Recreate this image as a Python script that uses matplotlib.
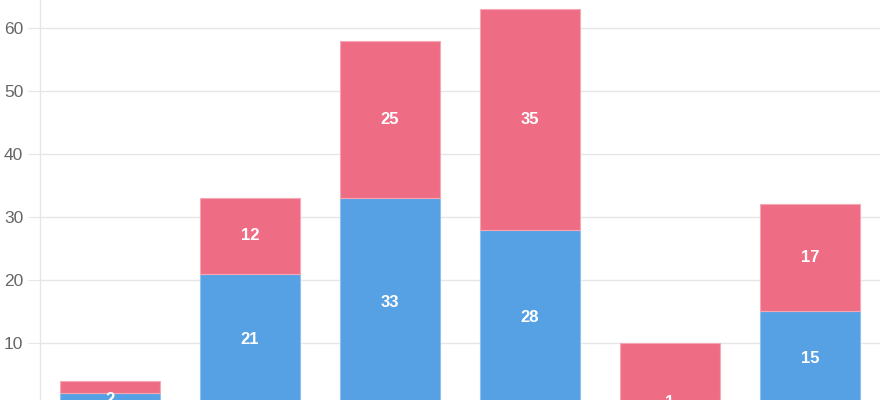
import matplotlib
matplotlib.use("Agg")
import matplotlib.pyplot as plt
import numpy as np

plt.rcParams['font.family'] = ['Liberation Sans', 'DejaVu Sans']

categories = ["A", "B", "C", "D", "E", "F"]
blue_values = [2, 21, 33, 28, 1, 15]
red_values = [2, 12, 25, 35, 9, 17]
blue_labels = ["2", "21", "33", "28", "1", "15"]
red_labels = ["", "12", "25", "35", "", "17"]
y_ticks = [0, 10, 20, 30, 40, 50, 60]

blue = '#56A0E4'
red = '#EE6D85'

fig = plt.figure(figsize=(8.8, 4.0), dpi=100)
ax = fig.add_axes([40/880, -6/400, 840/880, 406/400])

x = np.arange(len(categories))
w = 100/140
ax.bar(x, blue_values, width=w, color=blue, edgecolor='#8FC2EE', linewidth=0.8, zorder=3)
ax.bar(x, red_values, width=w, bottom=blue_values, color=red, edgecolor='#F5A7B6', linewidth=0.8, zorder=3)

for i in range(len(categories)):
    if blue_labels[i]:
        ax.text(x[i], blue_values[i] / 2, blue_labels[i], ha='center', va='center',
                color='white', fontweight='bold', fontsize=12, zorder=4)
    if red_labels[i]:
        ax.text(x[i], blue_values[i] + red_values[i] / 2, red_labels[i], ha='center', va='center',
                color='white', fontweight='bold', fontsize=12, zorder=4)

ax.set_xlim(-0.5, len(categories) - 0.5)
ax.set_ylim(0, 64.44)
ax.set_yticks(y_ticks)
ax.set_yticklabels([str(t) for t in y_ticks])
ax.set_xticks([])
ax.grid(axis='y', color='#E6E6E6', linewidth=1, zorder=0)
for s in ['top', 'right', 'bottom']:
    ax.spines[s].set_visible(False)
ax.spines['left'].set_color('#E6E6E6')
ax.spines['left'].set_linewidth(1)
ax.tick_params(axis='y', length=8.5, color='#E6E6E6', labelcolor='#666666', labelsize=12.5, pad=3.5)

fig.savefig('out.png', dpi=100)
